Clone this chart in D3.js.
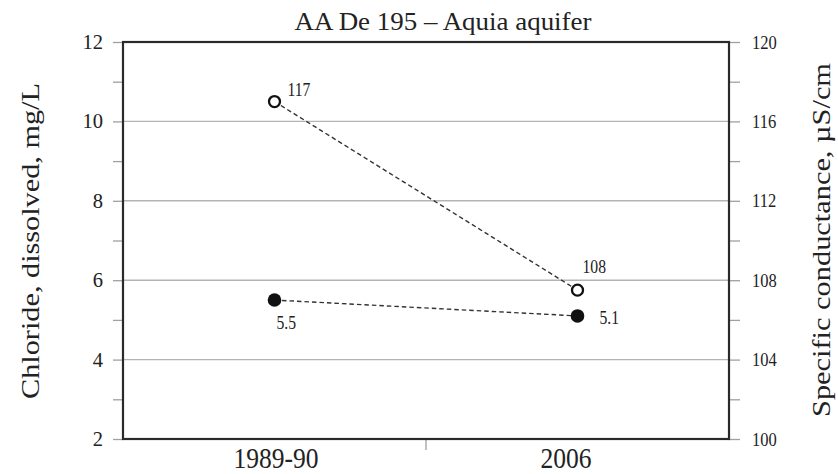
<!DOCTYPE html>
<html>
<head>
<meta charset="utf-8">
<script src="https://cdn.jsdelivr.net/npm/d3@7"></script>
<style>
  body { margin:0; background:#fff; }
  text { font-family: "Liberation Serif", "Times New Roman", serif; fill:#222; }
</style>
</head>
<body>
<div id="chart-area"></div>
<script>
// data
var periods = ["1989-90", "2006"];
var chloride = [5.5, 5.1];
var chlorideLabels = ["5.5", "5.1"];
var conductance = [117, 107.5];
var conductanceLabels = ["117", "108"];
var leftTicks = [2, 4, 6, 8, 10, 12];
var rightTicks = [100, 104, 108, 112, 116, 120];

var margin = { left:123, right:109, top:42, bottom:35 };
var width = 838 - margin.left - margin.right;
var height = 474 - margin.top - margin.bottom;

var svg = d3.select("#chart-area")
    .append("svg")
    .attr("width", 838)
    .attr("height", 474);

var g = svg.append("g")
    .attr("transform", "translate(" + margin.left + "," + margin.top + ")");

// squeeze text horizontally (the source picture is a bit narrow)
function condense(sel, f){
  sel.each(function(){
    var len = this.getComputedTextLength();
    d3.select(this)
      .attr("textLength", len * f)
      .attr("lengthAdjust", "spacingAndGlyphs");
  });
}

var x = d3.scalePoint()
    .domain(periods)
    .range([0, width])
    .padding(0.5);
var yLeft = d3.scaleLinear()
    .domain([2, 12])
    .range([height, 0]);
var yRight = d3.scaleLinear()
    .domain([100, 120])
    .range([height, 0]);

// gridlines
g.selectAll(".grid").data([4, 6, 8, 10])
  .enter().append("line")
    .attr("class", "grid")
    .attr("x1", 0).attr("x2", width)
    .attr("y1", function(d){ return yLeft(d); })
    .attr("y2", function(d){ return yLeft(d); })
    .attr("stroke", "#b4b4b4")
    .attr("stroke-width", 1.4);

// axes
var leftAxis = d3.axisLeft(yLeft)
    .tickValues(d3.range(2, 12.1, 1))
    .tickSize(10)
    .tickPadding(10)
    .tickFormat(function(d){ return leftTicks.indexOf(d) >= 0 ? d : ""; });
var la = g.append("g").call(leftAxis);

var rightAxis = d3.axisRight(yRight)
    .tickValues(d3.range(100, 120.1, 2))
    .tickSize(11)
    .tickPadding(12)
    .tickFormat(function(d){ return rightTicks.indexOf(d) >= 0 ? d : ""; });
var ra = g.append("g")
    .attr("transform", "translate(" + width + ",0)")
    .call(rightAxis);

[la, ra].forEach(function(a){
  a.select(".domain").remove();
  a.selectAll(".tick line").attr("stroke", "#a0a0a0").attr("stroke-width", 1.3);
  a.selectAll(".tick text")
    .attr("font-family", "Liberation Serif, serif")
    .attr("fill", "#333");
});
la.selectAll(".tick text").attr("font-size", "20.5px");
ra.selectAll(".tick text").attr("font-size", "19px").call(condense, 0.87);

var xAxis = d3.axisBottom(x).tickSize(0).tickPadding(0);
var xa = g.append("g")
    .attr("transform", "translate(0," + height + ")")
    .call(xAxis);
xa.select(".domain").remove();
var xShift = [1, -12];
xa.selectAll(".tick text")
    .attr("dy", null)
    .attr("y", 29)
    .attr("dx", function(d, i){ return xShift[i]; })
    .attr("font-size", "29px")
    .attr("font-family", "Liberation Serif, serif")
    .attr("fill", "#222")
    .call(condense, 0.88);

// small divider tick between the two periods
g.append("line")
    .attr("x1", x(periods[0]) + x.step() / 2)
    .attr("x2", x(periods[0]) + x.step() / 2)
    .attr("y1", height)
    .attr("y2", height + 11)
    .attr("stroke", "#a0a0a0")
    .attr("stroke-width", 1.3);

// frame
g.append("rect")
    .attr("width", width)
    .attr("height", height)
    .attr("fill", "none")
    .attr("stroke", "#2a2a2a")
    .attr("stroke-width", 2.2);

// lines
var lineL = d3.line()
    .x(function(d, i){ return x(periods[i]); })
    .y(function(d){ return yLeft(d); });
var lineR = d3.line()
    .x(function(d, i){ return x(periods[i]); })
    .y(function(d){ return yRight(d); });

g.append("path").datum(conductance)
    .attr("d", lineR)
    .attr("fill", "none")
    .attr("stroke", "#333")
    .attr("stroke-width", 1.4)
    .attr("stroke-dasharray", "4.5,3");
g.append("path").datum(chloride)
    .attr("d", lineL)
    .attr("fill", "none")
    .attr("stroke", "#333")
    .attr("stroke-width", 1.4)
    .attr("stroke-dasharray", "4.5,3");

// markers
g.selectAll(".open").data(conductance)
  .enter().append("circle")
    .attr("class", "open")
    .attr("cx", function(d, i){ return x(periods[i]); })
    .attr("cy", function(d){ return yRight(d); })
    .attr("r", 5.5)
    .attr("fill", "#fff")
    .attr("stroke", "#111")
    .attr("stroke-width", 2.3);
g.selectAll(".filled").data(chloride)
  .enter().append("circle")
    .attr("class", "filled")
    .attr("cx", function(d, i){ return x(periods[i]); })
    .attr("cy", function(d){ return yLeft(d); })
    .attr("r", 6.8)
    .attr("fill", "#111");

// point labels
var openOffsets = [[13, -6], [5, -17]];
g.selectAll(".openlab").data(conductance)
  .enter().append("text")
    .attr("x", function(d, i){ return x(periods[i]) + openOffsets[i][0]; })
    .attr("y", function(d, i){ return yRight(d) + openOffsets[i][1]; })
    .attr("font-size", "18px")
    .text(function(d, i){ return conductanceLabels[i]; })
    .call(condense, 0.87);

var filledOffsets = [[2, 29], [22, 8]];
g.selectAll(".filledlab").data(chloride)
  .enter().append("text")
    .attr("x", function(d, i){ return x(periods[i]) + filledOffsets[i][0]; })
    .attr("y", function(d, i){ return yLeft(d) + filledOffsets[i][1]; })
    .attr("font-size", "18px")
    .text(function(d, i){ return chlorideLabels[i]; })
    .call(condense, 0.87);

// title and axis labels
svg.append("text")
    .attr("x", 443)
    .attr("y", 30)
    .attr("text-anchor", "middle")
    .attr("font-size", "25px")
    .attr("textLength", 297)
    .attr("lengthAdjust", "spacingAndGlyphs")
    .text("AA De 195 – Aquia aquifer");

svg.append("text")
    .attr("transform", "rotate(-90)")
    .attr("x", -241)
    .attr("y", 39)
    .attr("text-anchor", "middle")
    .attr("font-size", "25px")
    .attr("textLength", 316)
    .attr("lengthAdjust", "spacingAndGlyphs")
    .text("Chloride, dissolved, mg/L");

svg.append("text")
    .attr("transform", "rotate(-90)")
    .attr("x", -240)
    .attr("y", 830)
    .attr("text-anchor", "middle")
    .attr("font-size", "26px")
    .attr("textLength", 354)
    .attr("lengthAdjust", "spacingAndGlyphs")
    .text("Specific conductance, µS/cm");
</script>
</body>
</html>
